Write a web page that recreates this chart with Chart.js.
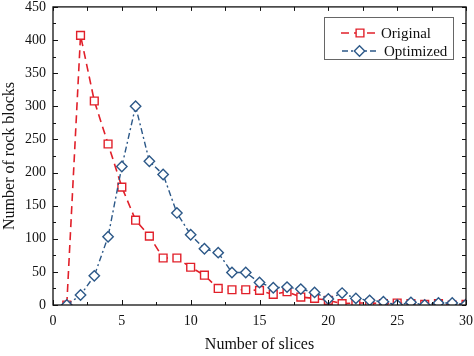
<!DOCTYPE html>
<html><head><meta charset="utf-8">
<script src="https://cdn.jsdelivr.net/npm/chart.js@4/dist/chart.umd.min.js"></script>
<style>html,body{margin:0;padding:0;background:#fff}#wrap{width:474px;height:356px;position:relative}</style>
</head><body><div id="wrap"><canvas id="c" width="474" height="356"></canvas></div>
<script>
const slices = [1,2,3,4,5,6,7,8,9,10,11,12,13,14,15,16,17,18,19,20,21,22,23,24,25,26,27,28,29,30];
const original = [0,407,308,243,178,128,104,71,71,57,45,25,23,23,22,16,20,12,10,7,2,3,3,2,3,2,1,2,0,1];
const optimized = [0,15,44,103,209,300,217,197,139,106,85,79,49,49,34,26,27,24,19,9,18,10,7,5,0,4,0,3,3,1];
const yTicks = [0,50,100,150,200,250,300,350,400,450];
const xTicks = [0,5,10,15,20,25,30];
const seriesNames = ['Original','Optimized'];

const RED = 'rgb(225,32,42)';
const BLUE = 'rgb(44,88,136)';
const FONT = "'Liberation Serif', 'Times New Roman', serif";

function pts(vals){ return slices.map((s,i)=>({x:s,y:vals[i]})); }

const framePlugin = {
  id:'frame',
  afterDraw(chart){
    const {ctx, chartArea:a, scales:{x,y}} = chart;
    ctx.save();
    ctx.strokeStyle = '#111';
    ctx.lineWidth = 1.3;
    ctx.setLineDash([]);
    ctx.strokeRect(a.left, a.top, a.right-a.left, a.bottom-a.top);
    ctx.lineWidth = 1;
    ctx.beginPath();
    const xs = xTicks[1]-xTicks[0];
    for (let v = xTicks[0]; v <= xTicks[xTicks.length-1] + 1e-9; v += xs/2) {
      const px = Math.round(x.getPixelForValue(v)) + 0.5;
      const major = Math.abs(v/xs - Math.round(v/xs)) < 1e-6;
      const len = major ? 5 : 3;
      ctx.moveTo(px, a.bottom); ctx.lineTo(px, a.bottom - len);
      ctx.moveTo(px, a.top); ctx.lineTo(px, a.top + 4);
    }
    const ys = yTicks[1]-yTicks[0];
    for (let v = yTicks[0]; v <= yTicks[yTicks.length-1] + 1e-9; v += ys/2) {
      const py = Math.round(y.getPixelForValue(v)) + 0.5;
      const major = Math.abs(v/ys - Math.round(v/ys)) < 1e-6;
      const len = major ? 5 : 3;
      ctx.moveTo(a.left, py); ctx.lineTo(a.left + len, py);
      ctx.moveTo(a.right, py); ctx.lineTo(a.right - 4, py);
    }
    ctx.stroke();

    // legend
    const bx = 324.5, by = 17.5, bw = 129, bh = 42;
    ctx.fillStyle = '#fff';
    ctx.fillRect(bx, by, bw, bh);
    ctx.strokeStyle = '#666';
    ctx.lineWidth = 1;
    ctx.strokeRect(bx, by, bw, bh);
    const rows = [
      {ds: chart.data.datasets[0], y: 33, x0: 341, x1: 379, tx: 381},
      {ds: chart.data.datasets[1], y: 51, x0: 342, x1: 377, tx: 384}
    ];
    rows.forEach(r => {
      const ds = r.ds;
      ctx.save();
      ctx.strokeStyle = ds.borderColor;
      ctx.lineWidth = ds.borderWidth;
      ctx.setLineDash(ds.borderDash);
      ctx.beginPath();
      ctx.moveTo(r.x0, r.y); ctx.lineTo(r.x1, r.y);
      ctx.stroke();
      ctx.setLineDash([]);
      const cx = (r.x0 + r.x1)/2;
      ctx.fillStyle = '#fff';
      ctx.strokeStyle = ds.pointBorderColor;
      ctx.lineWidth = ds.pointBorderWidth;
      Chart.helpers.drawPoint(ctx, {pointStyle: ds.pointStyle, radius: ds.pointRadius, rotation: 0, borderWidth: ds.pointBorderWidth}, cx, r.y);
      ctx.restore();
      ctx.fillStyle = '#111';
      ctx.font = "15px " + FONT;
      ctx.textBaseline = 'middle';
      ctx.textAlign = 'left';
      ctx.fillText(ds.label, r.tx, r.y + 1);
    });
    ctx.restore();
  }
};

new Chart(document.getElementById('c'), {
  type: 'line',
  data: {
    datasets: [
      {
        label: seriesNames[0], data: pts(original), order: 1,
        borderColor: RED, borderWidth: 1.6, borderDash: [8,5],
        pointStyle: 'rect', pointRadius: 5.5, pointBorderColor: RED, pointBackgroundColor: '#fff', pointBorderWidth: 1.4,
        fill: false, tension: 0
      },
      {
        label: seriesNames[1], data: pts(optimized), order: 0,
        borderColor: BLUE, borderWidth: 1.4, borderDash: [6,3,2,3],
        pointStyle: 'rectRot', pointRadius: 5.2, pointBorderColor: BLUE, pointBackgroundColor: '#fff', pointBorderWidth: 1.4,
        fill: false, tension: 0
      }
    ]
  },
  options: {
    responsive: false, animation: false, devicePixelRatio: 1,
    layout: { padding: { top: 6, right: 8, left: 0, bottom: 0 } },
    plugins: { legend: { display: false }, tooltip: { enabled: false } },
    scales: {
      x: {
        type: 'linear', min: xTicks[0], max: xTicks[xTicks.length-1],
        afterBuildTicks: s => { s.ticks = xTicks.map(v => ({value: v})); },
        afterFit: s => { s.height = 51; s.paddingLeft = 0; s.paddingRight = 0; },
        grid: { display: false, drawTicks: false, tickLength: 0 },
        border: { display: false },
        ticks: { font: { family: FONT, size: 14 }, color: '#111', padding: 8, maxRotation: 0 },
        title: { display: true, text: 'Number of slices', font: { family: FONT, size: 16 }, color: '#111', padding: { top: 0, bottom: 2 } }
      },
      y: {
        type: 'linear', min: yTicks[0], max: yTicks[yTicks.length-1],
        afterBuildTicks: s => { s.ticks = yTicks.map(v => ({value: v})); },
        afterFit: s => { s.width = 53; s.paddingTop = 0; s.paddingBottom = 0; },
        grid: { display: false, drawTicks: false, tickLength: 0 },
        border: { display: false },
        ticks: { font: { family: FONT, size: 14 }, color: '#111', padding: 7 },
        title: { display: true, text: 'Number of rock blocks', font: { family: FONT, size: 16 }, color: '#111', padding: { top: 0, bottom: 0 } }
      }
    }
  },
  plugins: [framePlugin]
});
</script></body></html>
